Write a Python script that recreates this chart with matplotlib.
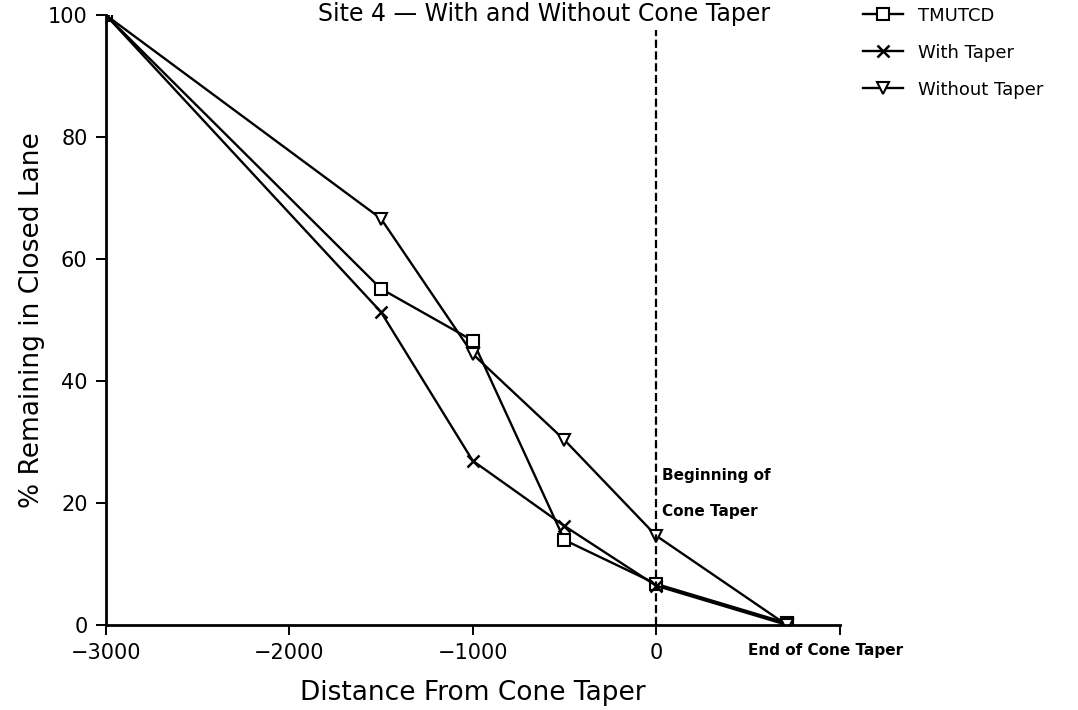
import matplotlib.pyplot as plt
import numpy as np

# distance from cone taper (ft); last point is the end of the taper
distance = [-3000, -1500, -1000, -500, 0, 710]
tmutcd = [100, 55.1, 46.6, 13.9, 6.7, 0.3]
with_taper = [100, 51.3, 26.9, 16.2, 6.4, 0.0]
without_taper = [100, 66.6, 44.4, 30.3, 14.6, 0.0]

x_ticks = [-3000, -2000, -1000, 0]

fig = plt.figure(figsize=(10.78, 7.1), dpi=100)
ax = fig.add_axes([0.098, 0.12, 0.681, 0.859])

ax.plot(distance, tmutcd, 'k-', marker='s', mfc='white', ms=9, mew=1.5, lw=1.7, label='TMUTCD')
ax.plot(distance, with_taper, 'k-', marker='x', ms=9, mew=1.8, lw=1.7, label='With Taper')
ax.plot(distance, without_taper, 'k-', marker='v', mfc='white', ms=9, mew=1.5, lw=1.7, label='Without Taper')

# beginning of cone taper
ax.plot([0, 0], [0, 97.5], 'k--', lw=1.6)
ax.text(30, 24.5, 'Beginning of', fontsize=11, fontweight='bold', va='center')
ax.text(30, 18.6, 'Cone Taper', fontsize=11, fontweight='bold', va='center')

ax.set_xlim(-3000, 1000)
ax.set_ylim(0, 100)
ax.set_xticks(x_ticks + [1000])
ax.set_xticklabels(['\u22123000', '\u22122000', '\u22121000', '0', ''])
ax.set_yticks([0, 20, 40, 60, 80, 100])
ax.text(920, -4.2, 'End of Cone Taper', fontsize=11, fontweight='bold',
        ha='center', va='center')

for s in ['top', 'right']:
    ax.spines[s].set_visible(False)
for s in ['left', 'bottom']:
    ax.spines[s].set_linewidth(2)
ax.tick_params(direction='out', length=7, width=1.4, labelsize=15, pad=6)

ax.set_xlabel('Distance From Cone Taper', fontsize=19, labelpad=12)
ax.set_ylabel('% Remaining in Closed Lane', fontsize=19, labelpad=2)

fig.text(0.505, 0.997, 'Site 4 \u2014 With and Without Cone Taper', fontsize=17,
         ha='center', va='top')

ax.legend(loc='upper left', bbox_to_anchor=(1.01, 1.04), frameon=False,
          fontsize=13, handlelength=2.2, labelspacing=1.05)

fig.savefig('out.png', dpi=100)
